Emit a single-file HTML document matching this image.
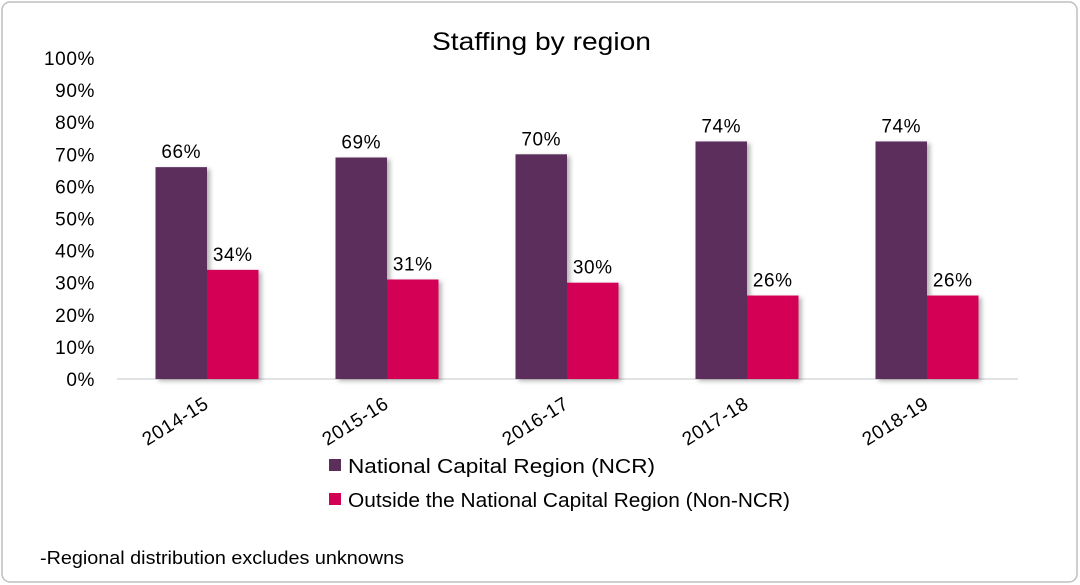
<!DOCTYPE html>
<html><head><meta charset="utf-8"><style>
html,body{margin:0;padding:0;background:#fff;}
svg{display:block;font-family:"Liberation Sans",sans-serif;}
</style></head><body>
<svg id="chart" width="1080" height="585" viewBox="0 0 1080 585">
<defs><filter id="sh" x="-20%" y="-10%" width="150%" height="120%"><feDropShadow dx="3" dy="2" stdDeviation="2.5" flood-color="#000" flood-opacity="0.3"/></filter></defs>
<rect x="2" y="2" width="1075" height="580" rx="8" fill="#fff" stroke="#bfbfbf" stroke-width="1.5"/>
<text x="432" y="50" textLength="219" lengthAdjust="spacingAndGlyphs" font-size="25" fill="#000">Staffing by region</text>
<g id="yaxis"></g>
<line x1="117" y1="379" x2="1018" y2="379" stroke="#d9d9d9" stroke-width="1.5"/>
<g id="bars"></g>
<g id="xlabels"></g>
<rect x="329" y="459" width="12" height="12" fill="#5c2f5b"/>
<text x="348" y="473" textLength="307" lengthAdjust="spacingAndGlyphs" font-size="20" fill="#000">National Capital Region (NCR)</text>
<rect x="329" y="493" width="12" height="12" fill="#d40056"/>
<text x="348" y="507" textLength="442" lengthAdjust="spacingAndGlyphs" font-size="20" fill="#000">Outside the National Capital Region (Non-NCR)</text>
<text x="40" y="564" textLength="364" lengthAdjust="spacingAndGlyphs" font-size="18" fill="#000">-Regional distribution excludes unknowns</text>
</svg>
<script>
const categories=["2014-15","2015-16","2016-17","2017-18","2018-19"];
const ncr=[66,69,70,74,74];
const nonNcr=[34,31,30,26,26];
const yTicks=[0,10,20,30,40,50,60,70,80,90,100];
const NS="http://www.w3.org/2000/svg";
function y(v){return 379-v*3.21;}
function xc(i){return 207+i*180;}
function mk(tag,attrs,parent){const e=document.createElementNS(NS,tag);for(const k in attrs)e.setAttribute(k,attrs[k]);parent.appendChild(e);return e;}
const ya=document.getElementById('yaxis');
yTicks.forEach(t=>{const e=mk('text',{x:95,y:y(t)+7,'text-anchor':'end','font-size':19,'letter-spacing':0.6,fill:'#000'},ya);e.textContent=t+'%';

});
const bg=document.getElementById('bars');
const bw=51.5;
categories.forEach((c,i)=>{
 const a=mk('rect',{x:xc(i)-bw,y:y(ncr[i]),width:bw,height:379-y(ncr[i]),fill:'#5c2f5b',filter:'url(#sh)'},bg);
 
 
 const b=mk('rect',{x:xc(i),y:y(nonNcr[i]),width:bw,height:379-y(nonNcr[i]),fill:'#d40056',filter:'url(#sh)'},bg);
 
 
 const l1=mk('text',{x:xc(i)-bw/2,y:y(ncr[i])-9,'text-anchor':'middle','font-size':19,'letter-spacing':0.6,fill:'#000'},bg);l1.textContent=ncr[i]+'%';
 
 
 const l2=mk('text',{x:xc(i)+bw/2,y:y(nonNcr[i])-9,'text-anchor':'middle','font-size':19,'letter-spacing':0.6,fill:'#000'},bg);l2.textContent=nonNcr[i]+'%';
 
 
 const xl=mk('text',{x:xc(i)+3,y:407,'text-anchor':'end','font-size':19,'letter-spacing':0.6,fill:'#000',transform:`rotate(-32 ${xc(i)+3} 407)`},document.getElementById('xlabels'));xl.textContent=c;
 
 
});
</script>
</body></html>
